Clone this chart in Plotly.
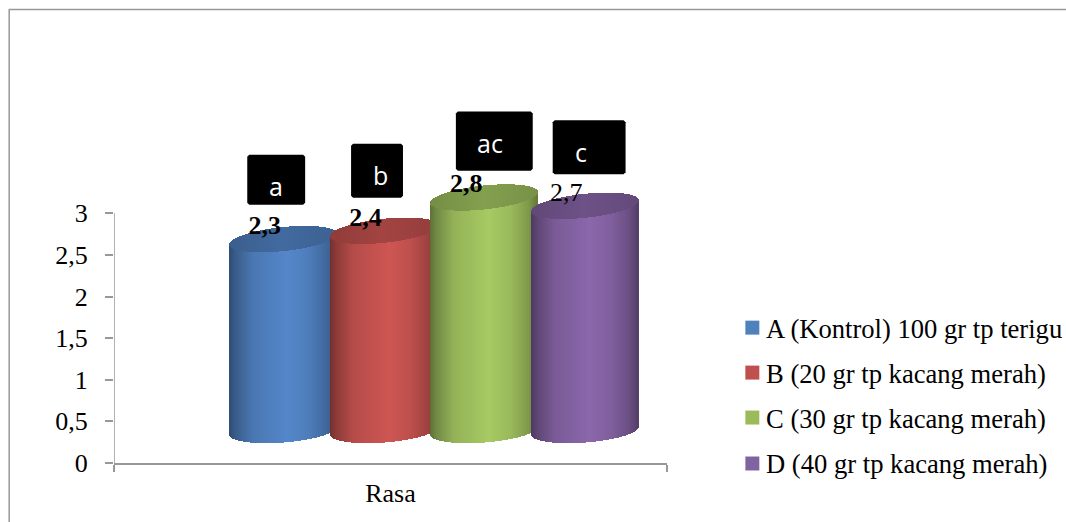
import numpy as np
import plotly.graph_objects as go

# Chart data
category = "Rasa"
series_names = [
    "A (Kontrol) 100 gr tp terigu",
    "B (20 gr tp kacang merah)",
    "C (30 gr tp kacang merah)",
    "D (40 gr tp kacang merah)",
]
values = [2.3, 2.4, 2.8, 2.7]
value_labels = ["2,3", "2,4", "2,8", "2,7"]
value_bold = [True, True, True, False]
group_letters = ["a", "b", "ac", "c"]
y_ticks = [0, 0.5, 1, 1.5, 2, 2.5, 3]
y_tick_labels = ["0", "0,5", "1", "1,5", "2", "2,5", "3"]
swatch_colors = ["#4f81bd", "#c0504d", "#9bbb59", "#8064a2"]
body_colors = [(84, 135, 202), (206, 86, 83), (167, 202, 99), (139, 103, 171)]

# Canvas and plot area, in pixels
W, H = 1066, 522
PLOT_L, PLOT_R, PLOT_B = 113.5, 667.5, 463.5
PX_PER_UNIT = 83.33
PX_PER_X = PLOT_R - PLOT_L
FONT = "Liberation Serif"
GRAY = "#989898"

# Pseudo-3D cylinder geometry
FLOOR = 0.39                      # lift of the cylinder base above the axis
RADIUS = 53.5 / PX_PER_X
OFFSETS = [(c - 390) / PX_PER_X for c in (282.5, 383.5, 484.0, 584.5)]
BOTTOM_B, BOTTOM_S = 12.0 / PX_PER_UNIT, 4.0 / PX_PER_UNIT
TOP_B, TOP_S = 12.0 / PX_PER_UNIT, 5.5 / PX_PER_UNIT
LABEL_LIFT = 0.53
LABEL_SHIFT = [(c - 390) / PX_PER_X for c in (264, 365, 466, 566)]

# Horizontal shading across the cylinder face
SHADE_POS = [0.0, 0.06, 0.22, 0.55, 0.75, 0.92, 1.0]
SHADE_VAL = [0.56, 0.68, 0.88, 1.0, 0.92, 0.76, 0.60]


def px(x):
    # canvas pixel column to the plot area's paper fraction
    return (x - PLOT_L) / PX_PER_X


def py(y):
    # canvas pixel row to the plot area's paper fraction
    return (PLOT_B - y) / PLOT_B


def to_rgb(c, f):
    return "rgb({},{},{})".format(*[int(round(min(255, v * f))) for v in c])


fig = go.Figure()
slice_w = 1.0 / PX_PER_X

for off, val, base_col in zip(OFFSETS, values, body_colors):
    xs = np.arange(off - RADIUS + slice_w / 2, off + RADIUS, slice_w)
    u = (xs - off) / RADIUS
    root = np.sqrt(np.clip(1 - u * u, 0, 1))
    t = (u + 1) / 2
    shade = np.interp(t, SHADE_POS, SHADE_VAL)

    # Cylinder face: from the lower arc of the base up to the top's centre line
    low = FLOOR + BOTTOM_S * u - BOTTOM_B * root
    top_c = FLOOR + val + TOP_S * u
    fig.add_trace(go.Bar(
        x=xs, base=low, y=top_c - low, width=slice_w,
        marker=dict(color=[to_rgb(base_col, f) for f in shade], line=dict(width=0)),
        showlegend=False, hoverinfo="skip",
    ))

    # Cylinder cap
    cap_low = top_c - TOP_B * root
    cap_high = top_c + TOP_B * root
    cap_shade = 0.70 + 0.09 * np.interp(t, [0, 0.5, 1], [0, 1, 0.2])
    fig.add_trace(go.Bar(
        x=xs, base=cap_low, y=cap_high - cap_low, width=slice_w,
        marker=dict(color=[to_rgb(base_col, f) for f in cap_shade], line=dict(width=0)),
        showlegend=False, hoverinfo="skip",
    ))

# Value labels sit above each cylinder
for shift, val, label, bold in zip(LABEL_SHIFT, values, value_labels, value_bold):
    fig.add_trace(go.Scatter(
        x=[shift], y=[val + LABEL_LIFT], mode="text", text=[label],
        textposition="middle center",
        textfont=dict(family=FONT, size=26, color="black",
                      weight="bold" if bold else "normal"),
        showlegend=False, hoverinfo="skip",
    ))

shapes = [
    # Chart frame
    dict(type="line", xref="paper", yref="paper", x0=px(8.5), x1=px(8.5),
         y0=py(9.5), y1=py(H + 2), line=dict(color=GRAY, width=1.5)),
    dict(type="line", xref="paper", yref="paper", x0=px(8), x1=px(W + 2),
         y0=py(9.5), y1=py(9.5), line=dict(color=GRAY, width=1.5)),
    # Value axis line, only as tall as the scale
    dict(type="line", xref="x", yref="y", x0=-0.5, x1=-0.5, y0=0, y1=y_ticks[-1],
         line=dict(color=GRAY, width=1.5)),
]

annotations = []

# Black letter boxes: left, right, top, bottom and the letter's centre
boxes = [
    (247, 305, 155, 205, 275.5, 186),
    (351, 403, 144, 198, 380, 175),
    (456, 533, 111.5, 171, 490.5, 143),
    (553, 626, 120.5, 174.5, 581.5, 152),
]
for (l, r, t, b, cx, cy), letter in zip(boxes, group_letters):
    k = 2
    path = (
        f"M {px(l + k)} {py(t)} L {px(r - k)} {py(t)} L {px(r)} {py(t + k)} "
        f"L {px(r)} {py(b - k)} L {px(r - k)} {py(b)} L {px(l + k)} {py(b)} "
        f"L {px(l)} {py(b - k)} L {px(l)} {py(t + k)} Z"
    )
    shapes.append(dict(type="path", xref="paper", yref="paper", path=path,
                       fillcolor="black", line=dict(width=0), layer="above"))
    annotations.append(dict(
        xref="paper", yref="paper", x=px(cx), y=py(cy), text=letter, showarrow=False,
        xanchor="center", yanchor="middle",
        font=dict(family="Open Sans", size=25, color="white"),
    ))

# Legend column
legend_rows = [328, 373, 418, 464]
for name, col, row in zip(series_names, swatch_colors, legend_rows):
    shapes.append(dict(type="rect", xref="paper", yref="paper",
                       x0=px(746), x1=px(760), y0=py(row - 7), y1=py(row + 7),
                       fillcolor=col, line=dict(width=0)))
    annotations.append(dict(
        xref="paper", yref="paper", x=px(764.5), y=py(row + 1), text=name, showarrow=False,
        xanchor="left", yanchor="middle",
        font=dict(family=FONT, size=26.6, color="black"),
    ))

fig.update_layout(
    width=W, height=H,
    margin=dict(l=PLOT_L, r=W - PLOT_R, t=0, b=H - PLOT_B, pad=0),
    paper_bgcolor="white", plot_bgcolor="white",
    barmode="overlay", bargap=0, showlegend=False,
    font=dict(family=FONT, size=26, color="black"),
    shapes=shapes, annotations=annotations,
    xaxis=dict(
        range=[-0.5, 0.5], tickvals=[0], ticktext=[category],
        ticks="", ticklen=0, ticklabelstandoff=6, showgrid=False, zeroline=False,
        showline=True, linecolor=GRAY, linewidth=1.5,
        tickfont=dict(family=FONT, size=26, color="black"),
        minor=dict(tickvals=[-0.5, 0.5], ticks="outside", ticklen=7, tickwidth=1.5,
                   tickcolor=GRAY, showgrid=False),
    ),
    yaxis=dict(
        range=[0, PLOT_B / PX_PER_UNIT], tickvals=y_ticks, ticktext=y_tick_labels,
        ticks="outside", ticklen=8, tickwidth=1.5, tickcolor=GRAY,
        ticklabelstandoff=12, showgrid=False, zeroline=False, showline=False,
        tickfont=dict(family=FONT, size=26, color="black"),
    ),
)

fig.write_html("out.html", config=dict(displayModeBar=False))
